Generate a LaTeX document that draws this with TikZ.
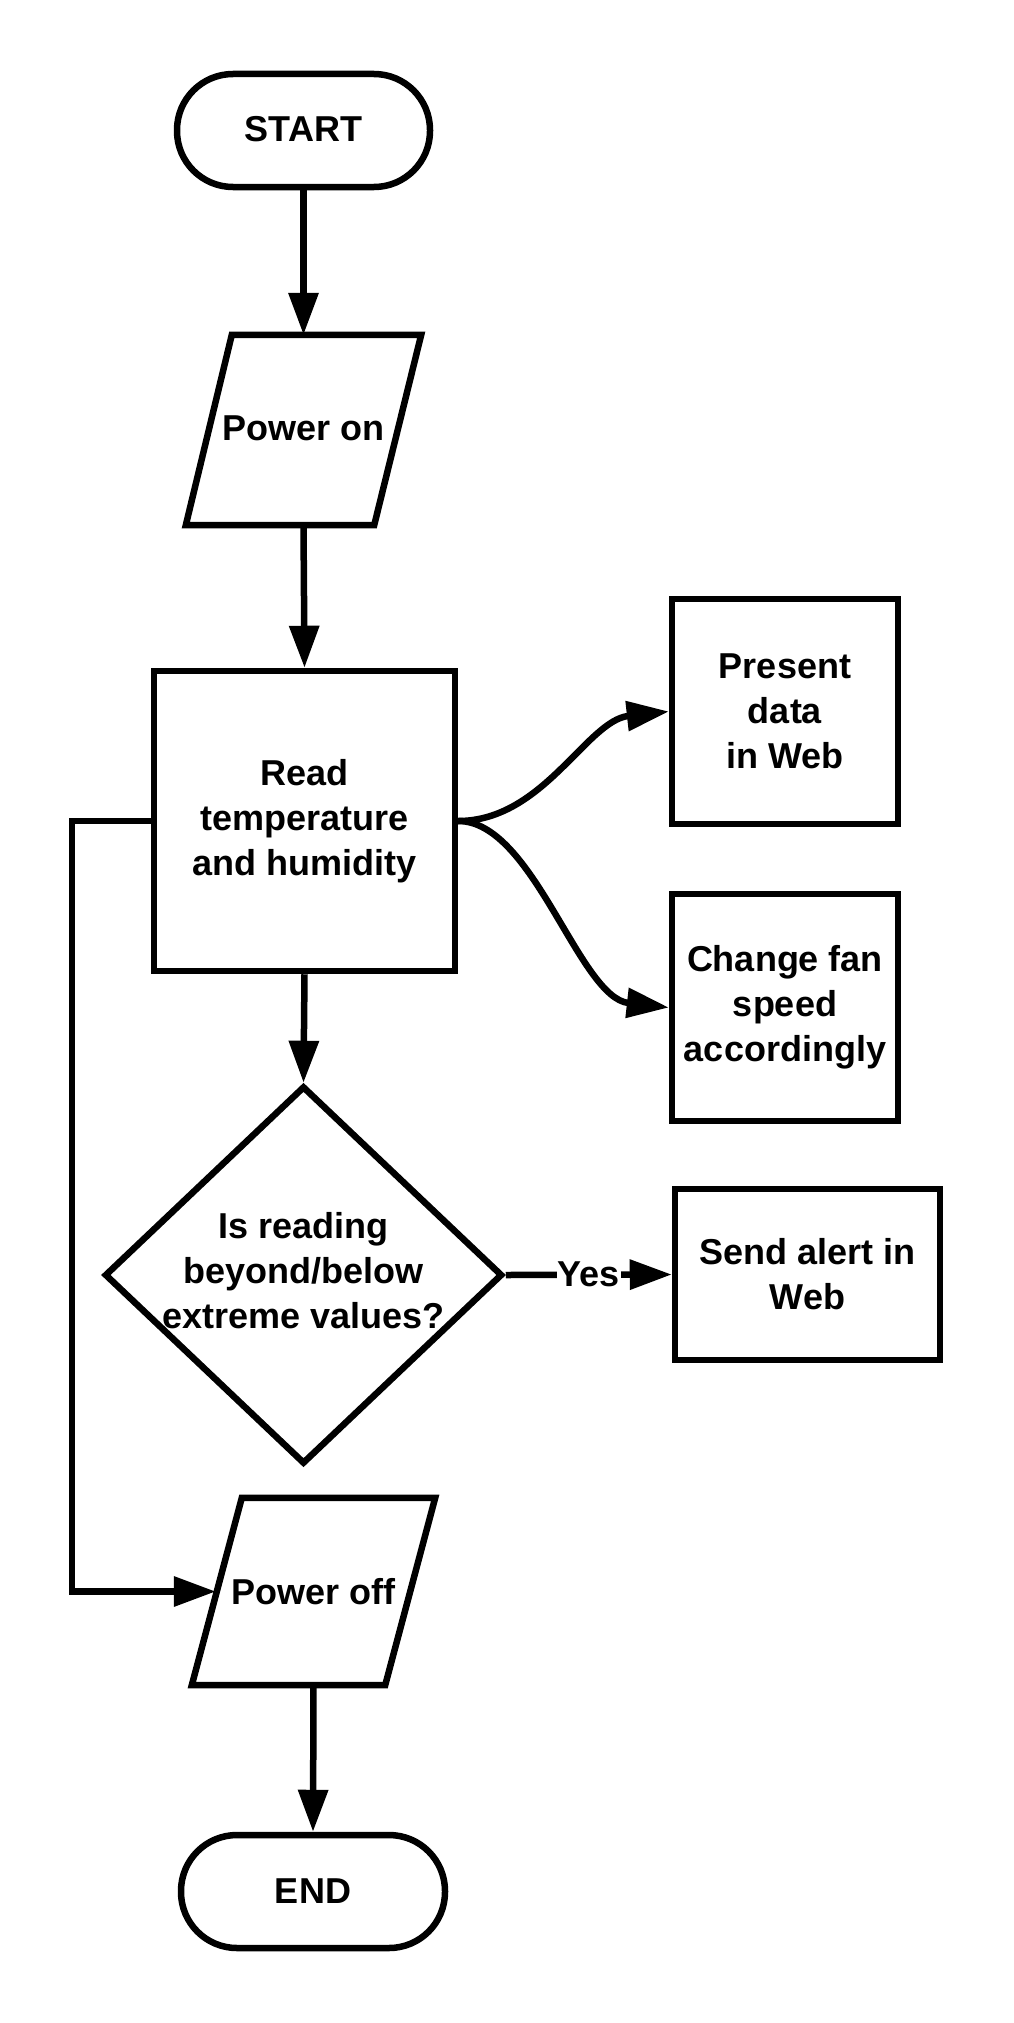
\documentclass[tikz,border=0pt]{standalone}
\usepackage{fontspec}
\setmainfont{Liberation Sans}
\usetikzlibrary{arrows.meta,shapes.geometric}
\begin{document}
\begin{tikzpicture}[x=1pt,y=-1pt,
  every node/.style={font=\fontsize{36}{45}\selectfont\bfseries, align=center},
  lw/.style={line width=6.5pt},
  box/.style={draw, lw, rectangle, inner sep=0pt},
  term/.style={draw, lw, rectangle, rounded corners=56pt, inner sep=0pt, minimum height=113pt},
  dia/.style={draw, lw, diamond, inner sep=0pt, minimum width=398pt, minimum height=378pt},
  hold/.style={rectangle, inner sep=0pt},
  arr/.style={lw, -{Triangle[length=42pt,width=29pt]}}
]
\useasboundingbox (0,0) rectangle (1014,2023);

\node[term, minimum width=253pt] (start) at (303.5,130.5) {START\\[-41pt]};
\node[hold, minimum width=235pt, minimum height=190pt] (pon) at (303.5,430) {Power on\\[-41pt]};
\draw[lw] ([xshift=46pt]pon.north west) -- (pon.north east) -- ([xshift=-47pt]pon.south east) -- (pon.south west) -- cycle;

\node[box, minimum width=301pt, minimum height=300pt] (read) at (304.5,821) {Read\\temperature\\and humidity};
\node[box, minimum width=226pt, minimum height=225pt] (present) at (785,711.5) {Present\\data\\in Web};
\node[box, minimum width=226pt, minimum height=227pt] (fan) at (785,1007.5) {Change fan\\speed\\accordingly};

\node[dia] (dec) at (303.5,1275) {};
\node (dectext) at (303.5,1271) {Is reading\\beyond/below\\extreme values?};
\node[box, minimum width=265pt, minimum height=171pt] (alert) at (807.5,1274.5) {Send alert in\\Web};

\node[hold, minimum width=243pt, minimum height=187pt] (poff) at (313.5,1591.5) {Power off};
\draw[lw] ([xshift=50pt]poff.north west) -- (poff.north east) -- ([xshift=-50pt]poff.south east) -- (poff.south west) -- cycle;

\node[term, minimum width=264pt] (end) at (313,1891.5) {END};

\draw[arr] (start.south) -- (pon.north);
\draw[arr] (pon.south) -- (read.north);
\draw[arr] (read.south) -- (dec.north);
\draw[arr] (read.east) .. controls +(85,0) and +(-82,9) .. (present.west);
\draw[arr] (read.east) .. controls +(75,0) and +(-90,-10) .. (fan.west);
\draw[arr] (dec.east) -- node[fill=white, inner sep=1pt] {Yes} (alert.west);
\draw[arr] (read.west) -- ++(-79,0) |- ([xshift=24pt]poff.west);
\draw[arr] (poff.south) -- (end.north);
\end{tikzpicture}
\end{document}
